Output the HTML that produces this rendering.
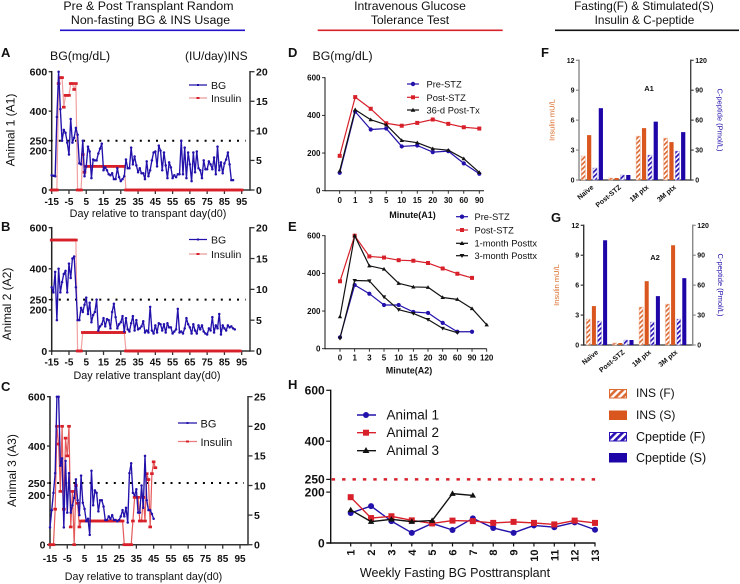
<!DOCTYPE html>
<html lang="en">
<head>
<meta charset="utf-8">
<title>Transplant glucose, insulin and C-peptide panels</title>
<style>
html,body{margin:0;padding:0;background:#fff}
svg{display:block;filter:blur(0.3px)}
text{font-family:"Liberation Sans",sans-serif;fill:#111}
.b{font-weight:bold}
</style>
</head>
<body>
<svg id="fig" width="740" height="584" viewBox="0 0 740 584" xmlns="http://www.w3.org/2000/svg">
<defs>
<pattern id="hatch-orange" patternUnits="userSpaceOnUse" width="3.4" height="3.4" patternTransform="rotate(45)"><rect width="3.4" height="3.4" fill="#fff"/><rect width="1.7" height="3.4" fill="#dc6a35"/></pattern>
<pattern id="hatch-blue" patternUnits="userSpaceOnUse" width="3.4" height="3.4" patternTransform="rotate(45)"><rect width="3.4" height="3.4" fill="#fff"/><rect width="1.7" height="3.4" fill="#2a12b4"/></pattern>
<pattern id="hatch-orange-big" patternUnits="userSpaceOnUse" width="5" height="5" patternTransform="rotate(45)"><rect width="5" height="5" fill="#fff"/><rect width="2.6" height="5" fill="#dc6a35"/></pattern>
<pattern id="hatch-blue-big" patternUnits="userSpaceOnUse" width="5" height="5" patternTransform="rotate(45)"><rect width="5" height="5" fill="#fff"/><rect width="2.6" height="5" fill="#2a12b4"/></pattern>
</defs>

<g>
<text x="148.5" y="10" font-size="12.35" text-anchor="middle">Pre &amp; Post Transplant Random</text>
<text x="150.5" y="24" font-size="12.35" text-anchor="middle">Non-fasting BG &amp; INS Usage</text>
<rect x="60" y="29.5" width="185" height="1.6" fill="#2211cc"/>
<text x="410" y="10" font-size="12.2" text-anchor="middle">Intravenous Glucose</text>
<text x="410" y="24" font-size="12.2" text-anchor="middle">Tolerance Test</text>
<rect x="317.7" y="29.5" width="185" height="1.6" fill="#d8202a"/>
<text x="644" y="10" font-size="11.8" text-anchor="middle">Fasting(F) &amp; Stimulated(S)</text>
<text x="644.5" y="24" font-size="11.8" text-anchor="middle">Insulin &amp; C-peptide</text>
<rect x="555" y="29.5" width="184" height="1.6" fill="#111"/>
</g>

<g id="panel-a">
<text class="b" x="1" y="57" font-size="13">A</text>
<text x="50" y="60" font-size="12.3">BG(mg/dL)</text>
<text x="185" y="60" font-size="12">(IU/day)INS</text>
<text transform="translate(14.5,130) rotate(-90)" font-size="12" text-anchor="middle">Animal 1 (A1)</text>
<text x="148" y="217" font-size="10.8" text-anchor="middle">Day relative to transpant day(d0)</text>
<g>
<line x1="189" x2="207" y1="85" y2="85" stroke="#2211aa" stroke-width="1.3"/><rect x="197" y="84" width="2" height="2" fill="#2211aa"/>
<text x="211" y="89" font-size="10.5">BG</text>
<line x1="189" x2="207" y1="98" y2="98" stroke="#ee9a9a" stroke-width="1.3"/><rect x="196.5" y="97" width="3" height="2" fill="#d8202a"/>
<text x="211" y="102" font-size="10.5">Insulin</text>
</g>
</g>

<g id="panel-b">
<text class="b" x="1" y="231" font-size="13">B</text>
<text transform="translate(11,304) rotate(-90)" font-size="12" text-anchor="middle">Animal 2 (A2)</text>
<text x="147" y="379" font-size="10.8" text-anchor="middle">Day relative transplant day(d0)</text>
<g>
<line x1="189" x2="207" y1="239.5" y2="239.5" stroke="#2211aa" stroke-width="1.3"/><rect x="197" y="238.5" width="2" height="2" fill="#2211aa"/>
<text x="211" y="243.5" font-size="10.5">BG</text>
<line x1="189" x2="207" y1="254" y2="254" stroke="#ee9a9a" stroke-width="1.3"/><rect x="196.5" y="253" width="3" height="2" fill="#d8202a"/>
<text x="211" y="258" font-size="10.5">Insulin</text>
</g>
</g>

<g id="panel-c">
<text class="b" x="1" y="391" font-size="13">C</text>
<text transform="translate(16,470.5) rotate(-90)" font-size="12" text-anchor="middle">Animal 3 (A3)</text>
<text x="143.5" y="580" font-size="10.7" text-anchor="middle">Day relative to transplant day(d0)</text>
<g>
<line x1="178" x2="197" y1="423" y2="423" stroke="#2211aa" stroke-width="1.3"/><rect x="186.5" y="422" width="2" height="2" fill="#2211aa"/>
<text x="200.5" y="427.5" font-size="11">BG</text>
<line x1="178" x2="197" y1="441.5" y2="441.5" stroke="#ec7a7a" stroke-width="1.3"/><rect x="186" y="440.5" width="3" height="2" fill="#d8202a"/>
<text x="200.5" y="446" font-size="11">Insulin</text>
</g>
</g>

<g id="panel-d">
<text class="b" x="288" y="57" font-size="13">D</text>
<text x="312.5" y="60" font-size="12.3">BG(mg/dL)</text>
<text class="b" x="412.5" y="218" font-size="9" text-anchor="middle">Minute(A1)</text>
<g>
<line x1="407" x2="419" y1="84" y2="84" stroke="#2211aa" stroke-width="1.2"/><circle cx="413" cy="84" r="2.2" fill="#2211aa"/>
<text x="426.5" y="87.5" font-size="9.3">Pre-STZ</text>
<line x1="407" x2="419" y1="97.3" y2="97.3" stroke="#d8202a" stroke-width="1.2"/><rect x="411" y="95.3" width="4" height="4" fill="#d8202a"/>
<text x="426.5" y="100.8" font-size="9.3">Post-STZ</text>
<line x1="407" x2="419" y1="110" y2="110" stroke="#111" stroke-width="1.2"/><path d="M413 107.7l2.4 4h-4.8z" fill="#111"/>
<text x="426.5" y="113.5" font-size="9.3">36-d Post-Tx</text>
</g>
</g>

<g id="panel-e">
<text class="b" x="288" y="231" font-size="13">E</text>
<text class="b" x="409" y="373.5" font-size="9" text-anchor="middle">Minute(A2)</text>
<g>
<line x1="456" x2="468" y1="216.7" y2="216.7" stroke="#2211aa" stroke-width="1.2"/><circle cx="462" cy="216.7" r="2.2" fill="#2211aa"/>
<text x="474.5" y="220" font-size="9.3">Pre-STZ</text>
<line x1="456" x2="468" y1="230" y2="230" stroke="#d8202a" stroke-width="1.2"/><rect x="460" y="228" width="4" height="4" fill="#d8202a"/>
<text x="474.5" y="233.3" font-size="9.3">Post-STZ</text>
<line x1="456" x2="468" y1="243.3" y2="243.3" stroke="#111" stroke-width="1.2"/><path d="M462 241l2.4 4h-4.8z" fill="#111"/>
<text x="474.5" y="246.6" font-size="9.3">1-month Posttx</text>
<line x1="456" x2="468" y1="255.7" y2="255.7" stroke="#111" stroke-width="1.2"/><path d="M462 258l2.4-4h-4.8z" fill="#111"/>
<text x="474.5" y="259" font-size="9.3">3-month Posttx</text>
</g>
</g>

<g id="panel-f">
<text class="b" x="541" y="57" font-size="13">F</text>
<text class="b" x="649" y="91" font-size="7.5" text-anchor="middle">A1</text>
<text transform="translate(554.5,120) rotate(-90)" font-size="7.5" text-anchor="middle" style="fill:#dc6a25">Insulin mU/L</text>
<text transform="translate(717.5,120) rotate(90)" font-size="7.5" text-anchor="middle" style="fill:#2211aa">C-peptide (Pmol/L)</text>
</g>

<g id="panel-g">
<text class="b" x="551" y="222" font-size="13">G</text>
<text class="b" x="655" y="260" font-size="7.5" text-anchor="middle">A2</text>
<text transform="translate(559,285) rotate(-90)" font-size="7.5" text-anchor="middle" style="fill:#dc6a25">Insulin mU/L</text>
<text transform="translate(718,285) rotate(90)" font-size="7.5" text-anchor="middle" style="fill:#2211aa">C-peptide (Pmol/L)</text>
</g>

<g id="panel-h">
<text class="b" x="288" y="389" font-size="13">H</text>
<text x="455" y="577" font-size="12.5" text-anchor="middle">Weekly Fasting BG Posttransplant</text>
<g>
<line x1="357" x2="376" y1="415" y2="415" stroke="#2211aa" stroke-width="1.4"/><circle cx="366" cy="415" r="3" fill="#2211aa"/>
<text x="386.5" y="419.5" font-size="13.5">Animal 1</text>
<line x1="357" x2="376" y1="432.7" y2="432.7" stroke="#d8202a" stroke-width="1.4"/><rect x="363" y="429.7" width="6" height="6" fill="#d8202a"/>
<text x="386.5" y="437.2" font-size="13.5">Animal 2</text>
<line x1="357" x2="376" y1="450.7" y2="450.7" stroke="#111" stroke-width="1.4"/><path d="M366 447l3.4 6h-6.8z" fill="#111"/>
<text x="386.5" y="455.2" font-size="13.5">Animal 3</text>
</g>
</g>

<g>
<rect x="609.5" y="389.5" width="17" height="8.5" fill="url(#hatch-orange-big)" stroke="#dc6a35"/>
<text x="636" y="397" font-size="12">INS (F)</text>
<rect x="609" y="410.5" width="18" height="9.5" fill="#d9571e"/>
<text x="636" y="419" font-size="12">INS (S)</text>
<rect x="609.5" y="432.5" width="17" height="8.5" fill="url(#hatch-blue-big)" stroke="#2a12b4"/>
<text x="636" y="441" font-size="12.5">Cpeptide (F)</text>
<rect x="609" y="453" width="18" height="9.5" fill="#1d05a8"/>
<text x="636" y="462" font-size="12.5">Cpeptide (S)</text>
</g>
</svg>

<script>
// ---------- data ----------
const bgDayTicks = [-15, -5, 5, 15, 25, 35, 45, 55, 65, 75, 85, 95];
const bgTicks = [0, 200, 250, 400, 600];
const insTicksAB = [0, 5, 10, 15, 20];
const insTicksC = [0, 5, 10, 15, 20, 25];

const startDayBgA = -15;
const bgA = [75,72,70,370,600,410,250,305,290,240,180,
 360,240,265,315,280,135,130,250,70,120,
 220,195,60,155,150,150,185,210,235,100,
 115,100,80,75,85,55,55,110,65,45,
 55,70,155,110,110,215,130,170,125,90,
 110,85,85,55,145,70,100,150,190,195,
 120,225,200,100,190,125,60,140,115,60,
 75,65,80,80,250,80,215,60,190,130,
 45,190,90,195,110,100,60,150,105,105,
 145,130,105,165,80,220,100,140,85,135,
 155,190,130,50,50];
const startDayInsA = -15;
const insA = [0,0,0,0,18,19,19,14,16,16,16,18,18,17,18,0,0,0,6,3,
 4,4,4,4,4,4,4,4,4,4,4,4,4,4,4,4,4,4,4,4,4,4,4,
 0,0,0,0,0,0,0,0,0,0,0,0,0,0,0,0,0,0,0,0,0,0,0,0,0,0,0,0,0,0,0,0,0,0,0,0,0,0,
 0,0,0,0,0,0,0,0,0,0,0,0,0,0,0,0,0,0,0,0,0,0,0,0,0,0,0,0,0,0];

const startDayBgB = -15;
const bgB = [310,285,385,150,400,285,335,375,390,285,
 425,355,450,460,310,150,150,210,190,225,
 260,180,235,140,175,190,250,100,120,130,
 160,120,155,150,110,190,230,165,110,130,
 140,170,95,160,105,95,135,170,100,150,
 105,110,120,145,90,100,90,215,100,85,
 125,90,135,130,100,130,90,135,115,115,
 85,95,105,205,90,95,85,110,160,130,
 115,85,130,100,85,125,105,125,95,85,
 80,110,100,165,90,125,110,180,80,125,
 110,100,125,115,120,110,105];
const startDayInsB = -15;
const insB = [18,18,18,18,18,18,18,18,18,18,18,18,18,18,18,0,0,0,
 3,3,3,3,3,3,3,3,3,3,3,3,3,3,3,3,3,3,3,3,3,3,3,3,3,
 0,0,0,0,0,0,0,0,0,0,0,0,0,0,0,0,0,0,0,0,0,0,0,0,0,0,0,0,0,0,0,0,0,0,0,0,0,0,
 0,0,0,0,0,0,0,0,0,0,0,0,0,0,0,0,0,0,0,0,0,0,0,0,0,0,0,0,0];

const startDayBgC = -15;
const bgC = [70,140,210,290,600,600,320,350,70,340,
 130,290,130,160,190,265,180,120,280,170,
 145,95,105,40,300,160,220,210,135,180,
 180,155,100,100,115,105,120,100,100,95,
 100,115,140,115,150,90,290,330,210,200,
 225,130,130,240,150,360,180,140,140,125,105];
const startDayInsC = -15;
const insC = [0,0,0,6,20,17,9,20,6,18,15,20,3,9,0,10,7,3,
 4,4,4,4,4,4,4,4,4,4,4,4,4,4,4,4,4,4,4,4,4,4,4,4,4,
 0,0,0,0,0,4,8,8,8,4,4,8,4,12,11,3,12,14,13];

const minutesD = ['0','1','3','5','10','15','20','30','60','90'];
const minutesE = ['0','1','3','5','10','15','20','30','60','90','120'];
const glucoseTicks = [0, 200, 400, 600];
const dPre = [95,420,325,330,235,240,205,210,145,90];
const dPost = [185,497,435,358,345,360,378,355,337,330];
const dTx36 = [105,430,377,350,267,255,223,215,170,97];
const ePre = [60,338,292,232,232,195,190,137,90,90];
const ePost = [358,600,490,484,470,467,455,426,398,376];
const eTx1m = [170,600,440,423,347,328,326,272,262,213,127];
const eTx3m = [55,362,360,275,207,187,155,108,85];

const barGroups = ['Naïve', 'Post-STZ', '1M ptx', '3M ptx'];
const insulinTicks = [0, 3, 6, 9, 12];
const cpeptideTicks = [0, 30, 60, 90, 120];
const fInsF = [2.4,0.2,4.4,4.2];
const fInsS = [4.5,0.2,5.2,3.8];
const fCpF = [12,5,25,29];
const fCpS = [72,5,58.5,48];
const gInsF = [2.6,0.2,3.8,4.1];
const gInsS = [3.9,0.2,6.4,10];
const gCpF = [24,5,23,26];
const gCpS = [105,5,49,67];

const weeks = ['1','2','3','4','5','6','7','8','9','10','11','12','13'];
const hTicks = [0, 200, 250, 400, 600];
const hAnimal1 = [118,145,86,40,77,51,97,59,40,69,62,81,52];
const hAnimal2 = [180,98,105,89,77,88,86,79,83,79,73,88,79];
const hAnimal3 = [130,84,93,84,88,194,187];
const threshold = 250;

// ---------- helpers ----------
const BLUE = '#2211aa', RED = '#d8202a', BLACK = '#111', ORANGE = '#d9571e', NAVY = '#1d05a8';
const NS = 'http://www.w3.org/2000/svg';
function el(tag, parent, props) {
  const n = document.createElementNS(NS, tag);
  for (const k in props) n.setAttribute(k, props[k]);
  parent.appendChild(n);
  return n;
}
function linear(d0, d1, r0, r1) {
  return function (v) { return r0 + (v - d0) * (r1 - r0) / (d1 - d0); };
}
function yAxis(g, name, x, y, ticks, side, fs, tickLen, color, sw) {
  const a = el('line', g, {x1: x, x2: x, y1: y(ticks[0]) + sw / 2, y2: y(ticks[ticks.length - 1]) - sw / 2, stroke: color, 'stroke-width': sw});
  
  
  const dir = side === 'left' ? -1 : 1;
  ticks.forEach(function (t) {
    const tk = el('line', g, {x1: x, x2: x + dir * tickLen, y1: y(t), y2: y(t), stroke: color, 'stroke-width': sw * 0.85});
    
    
    const lb = el('text', g, {x: x + dir * (tickLen + 1.5), y: y(t) + fs * 0.36, 'font-size': fs, class: 'b', 'text-anchor': side === 'left' ? 'end' : 'start'});
    lb.textContent = String(t);
    
    
  });
}
function xAxis(g, name, x, y0, labels, xEnd0, xEnd1, fs, tickLen, color, sw, labelY) {
  const a = el('line', g, {x1: xEnd0, x2: xEnd1, y1: y0, y2: y0, stroke: color, 'stroke-width': sw});
  
  
  labels.forEach(function (t, i) {
    const px = x(t, i);
    const tk = el('line', g, {x1: px, x2: px, y1: y0, y2: y0 + tickLen, stroke: color, 'stroke-width': sw * 0.85});
    
    
    const lb = el('text', g, {x: px, y: labelY, 'font-size': fs, class: 'b', 'text-anchor': 'middle'});
    lb.textContent = String(t);
    
    
  });
}
function dotted(g, name, x0, x1, y, color, w, dash) {
  const l = el('line', g, {x1: x0, x2: x1, y1: y, y2: y, stroke: color, 'stroke-width': w, 'stroke-dasharray': dash});
  
  
}
function polyline(g, name, pts, color, w) {
  const l = el('polyline', g, {points: pts.map(function (p) { return p[0].toFixed(2) + ',' + p[1].toFixed(2); }).join(' '), fill: 'none', stroke: color, 'stroke-width': w, 'stroke-linejoin': 'round'});
  
  
}
function marker(g, name, shape, p, size, color) {
  let m;
  if (shape === 'circle') {
    m = el('circle', g, {cx: p[0], cy: p[1], r: size, fill: color});
  } else if (shape === 'square') {
    m = el('rect', g, {x: p[0] - size, y: p[1] - size, width: 2 * size, height: 2 * size, fill: color});
  } else if (shape === 'flat') {
    m = el('rect', g, {x: p[0] - size, y: p[1] - size * 0.75, width: 2 * size, height: 1.5 * size, fill: color});
  } else if (shape === 'up') {
    m = el('path', g, {d: 'M' + p[0] + ' ' + (p[1] - size) + 'l' + size + ' ' + (size * 1.7) + 'h' + (-2 * size) + 'z', fill: color});
  } else {
    m = el('path', g, {d: 'M' + p[0] + ' ' + (p[1] + size) + 'l' + size + ' ' + (-size * 1.7) + 'h' + (-2 * size) + 'z', fill: color});
  }
  
  
}
function series(g, name, values, x, y, color, w, shape, size, lineColor) {
  const pts = values.map(function (v, i) { return [x(i), y(v)]; });
  polyline(g, name, pts, lineColor || color, w);
  pts.forEach(function (p) { marker(g, name, shape, p, size, color); });
}

// ---------- panels A, B, C ----------
function randomPanel(id, name, yTop, yBot, xLeft, xRight, rightMax, insTicks, bgStart, bg, insStart, ins, insLine, labelY) {
  const g = document.getElementById(id);
  const x = linear(-15, 95, xLeft, xLeft + 190);
  const yL = linear(0, 600, yBot, yTop);
  const yR = linear(0, rightMax, yBot, yTop);
  xAxis(g, name + '-x', function (t) { return x(t); }, yBot, bgDayTicks, xLeft, xRight, 10, 4, '#333', 1.5, labelY);
  yAxis(g, name + '-left', xLeft, yL, bgTicks, 'left', 10.5, 3, '#222', 1.5);
  yAxis(g, name + '-right', xRight, yR, insTicks, 'right', 10.5, 4.5, '#333', 1.5);
  dotted(g, name + '-threshold-250', xLeft - 1, xLeft + 194, yL(threshold), '#000', 2, '2 6.1');
  series(g, name + '-insulin', ins, function (i) { return x(insStart + i); }, yR, RED, 1.2, 'flat', 1.8, insLine);
  series(g, name + '-bg', bg, function (i) { return x(bgStart + i); }, yL, BLUE, 1.35, 'circle', 1.25);
}
randomPanel('panel-a', 'panel-a', 71.7, 190, 51.7, 250, 20, insTicksAB, startDayBgA, bgA, startDayInsA, insA, '#f0a0a0', 205);
randomPanel('panel-b', 'panel-b', 227.7, 351, 51.7, 250, 20, insTicksAB, startDayBgB, bgB, startDayInsB, insB, '#f0a0a0', 365.5);
randomPanel('panel-c', 'panel-c', 396.7, 544.7, 50, 248, 25, insTicksC, startDayBgC, bgC, startDayInsC, insC, '#e45a5a', 562);

// ---------- panels D, E ----------
function ivgttPanel(id, name, yTop, yBot, xAxisX, x0, step, cats, xEnd, labelY) {
  const g = document.getElementById(id);
  const x = function (i) { return x0 + i * step; };
  const y = linear(0, 600, yBot, yTop);
  xAxis(g, name + '-x', function (t, i) { return x(i); }, yBot, cats, xAxisX, xEnd, 8, 3, BLACK, 1, labelY);
  yAxis(g, name + '-y', xAxisX, y, glucoseTicks, 'left', 8, 3, BLACK, 1);
  return {g: g, x: x, y: y};
}
const pd = ivgttPanel('panel-d', 'panel-d', 77.7, 190.7, 325, 339.7, 15.51, minutesD, 484, 203);
series(pd.g, 'panel-d-pre-stz', dPre, pd.x, pd.y, BLUE, 1.2, 'circle', 2.1);
series(pd.g, 'panel-d-post-stz', dPost, pd.x, pd.y, RED, 1.2, 'square', 2);
series(pd.g, 'panel-d-36d-post-tx', dTx36, pd.x, pd.y, BLACK, 1.2, 'up', 2.2);
const pe = ivgttPanel('panel-e', 'panel-e', 235.7, 348.7, 325, 340, 14.67, minutesE, 486.7, 360.5);
series(pe.g, 'panel-e-pre-stz', ePre, pe.x, pe.y, BLUE, 1.2, 'circle', 2.1);
series(pe.g, 'panel-e-post-stz', ePost, pe.x, pe.y, RED, 1.2, 'square', 2);
series(pe.g, 'panel-e-1m-posttx', eTx1m, pe.x, pe.y, BLACK, 1.2, 'up', 2.2);
series(pe.g, 'panel-e-3m-posttx', eTx3m, pe.x, pe.y, BLACK, 1.2, 'down', 2.2);

// ---------- panels F, G ----------
function barPanel(id, name, yTop, yBot, axL, axR, leftColor, rightColor, group0, groupStep, barStep, insF, insS, cpF, cpS) {
  const g = document.getElementById(id);
  const yI = linear(0, 12, yBot, yTop);
  const yC = linear(0, 120, yBot, yTop);
  const bl = el('line', g, {x1: axL, x2: axR, y1: yBot, y2: yBot, stroke: '#333', 'stroke-width': 1.2});
  
  
  yAxis(g, name + '-left', axL, yI, insulinTicks, 'left', 7, 3, leftColor, 1.4);
  yAxis(g, name + '-right', axR, yC, cpeptideTicks, 'right', 7, 3, rightColor, 1.4);
  const w = barStep * 0.72;
  function bars(values, scale, offset, fill, stroke, label) {
    values.forEach(function (v, i) {
      const cx = group0 + i * groupStep + offset * barStep;
      const b = el('rect', g, {x: cx - w / 2, y: scale(v), width: w, height: yBot - scale(v), fill: fill, stroke: stroke, 'stroke-width': stroke === 'none' ? 0 : 0.5});
      
      
    });
  }
  bars(insF, yI, 0, 'url(#hatch-orange)', '#f0b090', 'ins-f');
  bars(insS, yI, 1, ORANGE, 'none', 'ins-s');
  bars(cpF, yC, 2, 'url(#hatch-blue)', '#a8a0e0', 'cpeptide-f');
  bars(cpS, yC, 3, NAVY, 'none', 'cpeptide-s');
  barGroups.forEach(function (t, i) {
    const cx = group0 + i * groupStep + 1.5 * barStep;
    const lb = el('text', g, {transform: 'translate(' + (cx + 2) + ',' + (yBot + 8) + ') rotate(-40)', 'font-size': 7, class: 'b', 'text-anchor': 'end'});
    lb.textContent = t;
    
    
  });
}
barPanel('panel-f', 'panel-f', 60.3, 180, 579, 690.7, '#888', '#444', 583.3, 27.45, 5.85, fInsF, fInsS, fCpF, fCpS);
barPanel('panel-g', 'panel-g', 225.3, 345, 583.7, 692.7, '#333', '#888', 588.3, 26.4, 5.6, gInsF, gInsS, gCpF, gCpS);

// ---------- panel H ----------
(function () {
  const g = document.getElementById('panel-h');
  const yTop = 390.3, yBot = 543, axX = 330.7;
  const x = function (i) { return 350.7 + i * 20.36; };
  const y = linear(0, 600, yBot, yTop);
  const base = el('line', g, {x1: axX - 4, x2: 595.5, y1: yBot, y2: yBot, stroke: BLACK, 'stroke-width': 1.4});
  
  
  weeks.forEach(function (t, i) {
    const tk = el('line', g, {x1: x(i), x2: x(i), y1: yBot, y2: yBot + 3.5, stroke: BLACK, 'stroke-width': 1.2});
    
    
    const lb = el('text', g, {transform: 'translate(' + (x(i) + 4) + ',' + (yBot + 6.5) + ') rotate(-90)', 'font-size': 11, class: 'b', 'text-anchor': 'end'});
    lb.textContent = t;
    
    
  });
  yAxis(g, 'panel-h-y', axX, y, hTicks, 'left', 12, 4.5, BLACK, 1.4);
  dotted(g, 'panel-h-threshold-250', axX + 1, 596, y(threshold), RED, 2.4, '3.4 7');
  series(g, 'panel-h-animal-1', hAnimal1, x, y, BLUE, 1.4, 'circle', 3);
  series(g, 'panel-h-animal-2', hAnimal2, x, y, RED, 1.4, 'square', 3);
  series(g, 'panel-h-animal-3', hAnimal3, x, y, BLACK, 1.4, 'up', 3.2);
})();
</script>
</body>
</html>
